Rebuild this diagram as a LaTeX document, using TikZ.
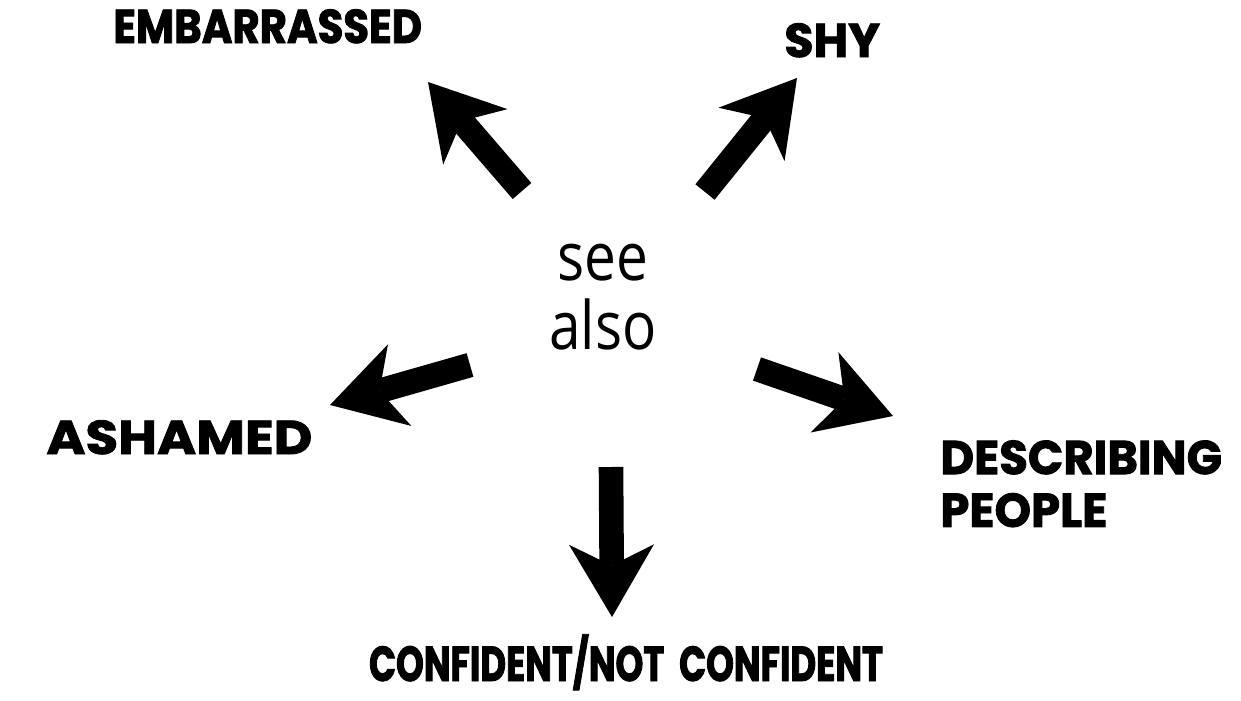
\documentclass[tikz,border=0pt]{standalone}
\usepackage{fontspec}
\newfontfamily\tagfont{Poppins}
\newfontfamily\seefont{Open Sans}[FakeStretch=0.85]
\usetikzlibrary{arrows.meta, positioning}
\tikzset{
  topic/.style={font=\tagfont\bfseries\fontsize{27}{30}\selectfont\addfontfeatures{FakeStretch=#1, FakeBold=1.8},
    inner sep=0pt, align=left},
  topic/.default=1,
  seealso/.style={font=\seefont\fontsize{38}{39}\selectfont, inner sep=0pt, align=center},
  fatarrow/.style={line width=14pt, -{Stealth[length=1.45cm, width=1.7cm, inset=0.42cm, line width=0pt]}},
}

\begin{document}
\begin{tikzpicture}[x=0.02cm, y=-0.02cm]
  \useasboundingbox[fill=white] (0,0) rectangle (1241,700);
  \node[seealso] (sa) at (603,297) {see\\also};
  \node[topic=0.88, anchor=base west] (emb) at (113,43) {EMBARRASSED};
  \node[topic, anchor=base west] (shy) at (784,57) {SHY};
  \node[topic=1.12, anchor=base west] (ash) at (46,454) {ASHAMED};
  \node[topic=0.98, anchor=north west] (desc) at (940,440) {DESCRIBING\\PEOPLE};
  \node[font=\tagfont\bfseries\fontsize{28}{32}\selectfont\addfontfeatures{FakeStretch=0.72, FakeBold=1.8},
    inner sep=0pt, anchor=base] (conf) at (626,681) {CONFIDENT/NOT\hspace{0.15em} CONFIDENT};
  % arrow ends round the centre
  \coordinate (sa-nw) at (522,191);
  \coordinate (sa-ne) at (705,192);
  \coordinate (sa-w) at (470,365);
  \coordinate (sa-e) at (757,369);
  \coordinate (sa-s) at (611,467);
  % tips next to the topics
  \coordinate (emb-tip) at (428,82);
  \coordinate (shy-tip) at (797,78);
  \coordinate (ash-tip) at (330,405);
  \coordinate (desc-tip) at (893,416);
  \coordinate (conf-tip) at (612,617);
  \draw[fatarrow] (sa-nw) -- (emb-tip);
  \draw[fatarrow] (sa-ne) -- (shy-tip);
  \draw[fatarrow] (sa-w) -- (ash-tip);
  \draw[fatarrow] (sa-e) -- (desc-tip);
  \draw[fatarrow] (sa-s) -- (conf-tip);
\end{tikzpicture}
\end{document}
